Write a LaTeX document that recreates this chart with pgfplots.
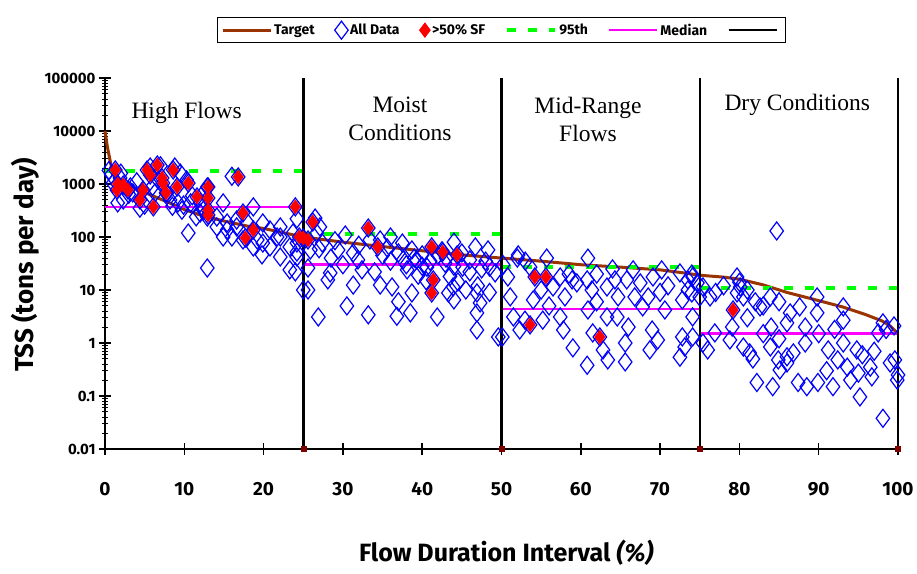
\documentclass[border=0pt]{standalone}
\usepackage{fontspec}
\setmainfont{Fira Sans}
\newfontfamily\regionfont{Liberation Serif}
\usepackage{pgfplots}
\pgfplotsset{compat=1.18}
\definecolor{tgtbrown}{RGB}{153,51,0}
\definecolor{dblue}{RGB}{0,0,255}
\definecolor{dred}{RGB}{255,0,0}
\definecolor{dgreen}{RGB}{0,255,0}
\definecolor{dmag}{RGB}{255,0,255}
\definecolor{mkred}{RGB}{128,0,0}
\pgfplotsset{markleg/.style={legend image code/.code={\draw[##1, only marks] plot coordinates {(24pt,0pt)};}}}
\begin{document}
\begin{tikzpicture}
\begin{axis}[
  at={(0pt,0pt)}, anchor=south west,
  scale only axis, width=793pt, height=371pt,
  ymode=log, xmin=0, xmax=100, ymin=0.01, ymax=100000,
  axis x line*=bottom, axis y line*=left,
  axis line style={black, line width=2pt},
  xtick={0,10,...,100},
  xticklabels={0,10,20,30,40,50,60,70,80,90,100},
  ytick={0.01,0.1,1,10,100,1000,10000,100000},
  yticklabels={0.01,0.1,1,10,100,1000,10000,100000},
  yminorticks=true,
  tick align=center,
  major tick length=12pt, minor tick length=6pt,
  tick style={black, line width=1.5pt},
  minor tick style={black, line width=1pt},
  xticklabel style={font=\bfseries\fontsize{19}{19}\selectfont, yshift=-24pt},
  yticklabel style={font=\bfseries\fontsize{15}{15}\selectfont},
  xlabel={Flow Duration Interval \textit{(\%)}},
  xlabel style={font=\bfseries\fontsize{25}{25}\selectfont, at={(axis description cs:0.506,-0.28)}, anchor=center},
  ylabel={TSS (tons per day)},
  ylabel style={font=\bfseries\fontsize{26}{26}\selectfont, at={(axis description cs:-0.1,0.496)}, anchor=center, rotate=0},
  clip=false,
  legend columns=6,
  legend style={at={(axis description cs:0.5,1.164)}, anchor=north, draw=black, line width=1pt,
    font=\bfseries\fontsize{14}{14}\selectfont, inner sep=3.5pt,
    /tikz/every even column/.append style={column sep=18pt}},
  legend image code/.code={\draw[mark repeat=2,mark phase=2,#1] (0pt,0pt) -- (24pt,0pt) -- (48pt,0pt);},
]
% Target
\addplot[tgtbrown, line width=3pt, no marks] coordinates {
(0,10000) (0.3,5000) (0.7,2500) (1,1600) (2,1150) (4,800) (6,600) (8,450) (10,330) (12,260) (15,200) (18,160) (20,145) (22,125) (25,100) (30,80) (35,66) (40,55) (45,46) (50,40) (55,35) (60,30) (65,27) (70,24) (73,21) (75,19) (78,17.5) (80,16) (83,12.5) (86,9) (90,6.3) (93,4.8) (96,3.4) (98,2.6) (99,2.1) (100,1.5)};
\addlegendentry{Target}
% All data
\addplot[only marks, mark=diamond, mark size=9pt, dblue, mark options={line width=1.2pt}, markleg] coordinates {
(1.3,1840) (1.5,770) (1.6,1000) (2.3,960) (2.9,770) (4.4,500) (4.8,770) (5.3,1840) (5.7,1480) (6.1,370) (6.6,2280) (7.2,1300) (7.3,1040) (7.7,680) (8.6,1840) (9.1,880) (10.5,1040) (11.6,570) (13.0,880) (13.0,545) (13.0,320) (13.0,260) (16.8,1360) (17.4,284) (17.7,96) (18.7,136) (24.0,370) (24.5,100) (25.0,96) (25.6,88) (26.2,192) (33.2,148) (34.4,65) (41.2,65) (41.4,15.5) (41.2,8.8) (42.6,52) (44.4,46) (53.6,2.2) (54.2,17.6) (55.6,17.6) (62.4,1.3) (79.2,4.2)
(0.5,1800) (0.8,1500) (1.0,1040) (1.6,440) (1.9,1300) (2.0,1600) (2.3,500) (3.0,640) (3.2,880) (3.5,680) (4.0,1100) (4.4,350) (5.0,400) (5.7,2090) (6.0,900) (6.3,680) (6.7,1190) (7.0,2200) (7.8,680) (8.2,500) (8.5,380) (8.8,2090) (9.2,440) (9.5,1600) (9.7,320) (9.9,400) (10.3,1190) (10.5,119) (10.8,440) (11.0,600) (11.5,240) (12.0,440) (12.0,284) (12.4,320) (12.5,700) (12.9,238) (12.9,880) (12.9,26) (14.1,238) (14.1,155) (14.9,440) (14.9,100) (15.4,184) (15.4,136) (16.0,100) (16.0,1400) (16.6,209) (16.6,155) (17.4,88) (17.9,192) (18.7,370) (18.7,65) (19.2,88) (19.8,46) (19.9,184) (19.9,77) (20.8,136) (20.8,65) (21.7,100) (22.1,155) (22.1,100) (22.1,42) (23.3,65) (23.3,24) (23.7,119) (24.2,77) (24.2,52) (25.0,10)
(24.2,220) (26.5,228) (27.1,155) (26.7,119) (27.4,77) (25.9,57) (24.2,42) (25.6,26) (24.0,22) (25.6,10) (26.9,3.1) (27,60) (28.4,21) (28.1,15.5) (28.5,40) (29,85) (29.4,57) (30,30) (30.3,109) (30.5,5) (31.3,50) (31.3,12.4) (31.9,37) (32,70) (32.4,24) (33.2,3.4) (33.4,88) (34.0,22) (34.7,88) (34.7,12.4) (35.0,45) (35.6,62) (36,100) (36.0,35) (36.2,11.4) (36.8,3.2) (37,6) (37.0,50) (37.5,77) (37.6,37) (38.0,30) (38.1,24) (38.5,3.7) (38.7,57) (38.7,8.8) (39.0,40) (39.3,37) (39.5,19) (40.0,46) (40.0,28) (40.5,15) (40.6,27) (41.0,35) (41.9,3.1) (42.0,45) (42.5,55) (42.9,32) (43.0,40) (43.3,8.8) (43.5,18) (43.9,11.4) (44,80) (44.0,28) (44.0,6.5) (44.5,14.2) (45.0,50) (45.1,27) (45.5,10) (46.0,37) (46.0,22) (46.7,65) (46.9,8.8) (46.9,3.7) (46.9,1.76) (47.0,12) (47.3,5.7) (47.5,25) (48.0,35) (48.3,57) (48.5,27) (48.5,9) (49.2,21) (49.6,1.3) (50.2,30)
(50.1,1.3) (50.8,17.6) (51.1,7.4) (51.5,3.1) (52.0,40) (52.1,46) (52.3,1.76) (52.96,2.7) (53.0,35) (53.6,27) (54.0,6.5) (55,10) (55.2,2.7) (55.7,40) (56,5) (56.5,11.4) (57.4,17.6) (57.4,3.1) (57.8,1.76) (58.0,7.4) (58.5,20) (58.9,15.5) (59.0,0.81) (59.5,13.6) (60.8,0.38) (60.8,15.5) (60.9,40) (60.9,4.2) (61.4,10) (61.5,1.55) (62,20) (62,6) (62.8,0.74) (63.3,11.4) (63.3,3.1) (63.4,0.48) (64,25) (64.3,15.5) (64.6,3.1) (64.7,7.4) (65.6,1.0) (65.6,0.44) (65.8,15.5) (66,2) (66.6,24) (66.8,7.4) (67.5,13.6) (67.8,4.8) (68.5,7.4) (68.7,0.74) (69.0,1.76) (69.1,17.6) (69.7,1.14) (70,9) (70.2,24) (70.6,4.2) (71,12) (72.5,21) (72.5,0.54) (72.8,6.5) (72.8,1.3) (73.1,0.84) (73.5,15.5) (73.5,10) (74,20) (74.0,8.8) (74.1,3.1) (74.1,1.3) (74.7,13.6)
(74.1,17.6) (75.0,7.4) (75.4,11.4) (75.4,1.0) (76.0,0.74) (76.3,7.4) (76.9,1.55) (77,9) (78,12) (78.8,1.14) (79.1,2.0) (79.7,17.6) (79.7,8.8) (80,14) (80.1,11.4) (80.5,7.4) (80.5,0.84) (81,10) (81,3) (81.3,0.65) (81.7,0.5) (82,6) (82.2,0.18) (82.6,4.8) (83,5) (83,1.5) (83.9,7.4) (83.9,0.84) (84,2) (84.2,0.15) (84.7,130) (84.9,0.48) (85,6) (85,1.2) (85.1,0.31) (86,0.55) (86.0,0.42) (86.0,2.4) (86.4,3.7) (86.8,0.65) (87.4,0.18) (87.6,4.8) (88.3,2.0) (88.3,1.0) (88.5,0.15) (89.8,7.4) (89.8,3.7) (89.9,0.18) (90,1.5) (91,0.3) (91.2,0.74) (91.8,0.15) (92,1.8) (92.4,0.48) (93.1,4.8) (93.1,2.7) (93.1,1.0) (93.6,0.35) (94,0.2) (94.8,0.74) (95.0,0.27) (95.2,0.096) (95.5,0.6) (96.5,0.35) (96.7,0.23) (97,0.7) (97.5,1.55) (98.1,2.4) (98.1,0.038) (98.5,1.8) (99.0,0.42) (99.5,2.1) (99.6,0.48) (99.9,0.2) (100,0.25)};
\addlegendentry{All Data}
% >50% SF
\addplot[only marks, mark=diamond*, mark size=7pt, dred, mark options={fill=dred, draw=dred}, markleg] coordinates {
(1.3,1840) (1.5,770) (1.6,1000) (2.3,960) (2.9,770) (4.4,500) (4.8,770) (5.3,1840) (5.7,1480) (6.1,370) (6.6,2280) (7.2,1300) (7.3,1040) (7.7,680) (8.6,1840) (9.1,880) (10.5,1040) (11.6,570) (13.0,880) (13.0,545) (13.0,320) (13.0,260) (16.8,1360) (17.4,284) (17.7,96) (18.7,136) (24.0,370) (24.5,100) (25.0,96) (25.6,88) (26.2,192) (33.2,148) (34.4,65) (41.2,65) (41.4,15.5) (41.2,8.8) (42.6,52) (44.4,46) (53.6,2.2) (54.2,17.6) (55.6,17.6) (62.4,1.3) (79.2,4.2)};
\addlegendentry{>50\% SF}
% 95th
\addplot[dgreen, line width=4pt, dash pattern=on 9pt off 12pt, no marks] coordinates {(0,1780) (25,1780)};
\addlegendentry{95th}
\addplot[dgreen, line width=4pt, dash pattern=on 9pt off 12pt, no marks, forget plot] coordinates {(25,113) (50,113)};
\addplot[dgreen, line width=4pt, dash pattern=on 9pt off 12pt, no marks, forget plot] coordinates {(50,27) (75,27)};
\addplot[dgreen, line width=4pt, dash pattern=on 9pt off 12pt, no marks, forget plot] coordinates {(75,11) (100,11)};
% Median
\addplot[dmag, line width=2.5pt, no marks] coordinates {(0,370) (25,370)};
\addlegendentry{Median}
\addplot[dmag, line width=2.5pt, no marks, forget plot] coordinates {(25,30) (50,30)};
\addplot[dmag, line width=2.5pt, no marks, forget plot] coordinates {(50,4.4) (75,4.4)};
\addplot[dmag, line width=2.5pt, no marks, forget plot] coordinates {(75,1.5) (100,1.5)};
% dividers
\addplot[black, line width=2.5pt, mark=square*, mark size=2.5pt, mark indices={1}, mark options={mkred, line width=0.5pt}] coordinates {(25,0.01) (25,100000)};
\addlegendentry{}
\addplot[black, line width=2.5pt, mark=square*, mark size=2.5pt, mark indices={1}, mark options={mkred, line width=0.5pt}, forget plot] coordinates {(50,0.01) (50,100000)};
\addplot[black, line width=2.5pt, mark=square*, mark size=2.5pt, mark indices={1}, mark options={mkred, line width=0.5pt}, forget plot] coordinates {(75,0.01) (75,100000)};
\addplot[black, line width=2.5pt, mark=square*, mark size=2.5pt, mark indices={1}, mark options={mkred, line width=0.5pt}, forget plot] coordinates {(100,0.01) (100,100000)};
% region labels
\node[font=\regionfont\fontsize{23.5}{28}\selectfont, align=center] at (axis cs:10.3,21900) {High Flows};
\node[font=\regionfont\fontsize{23.5}{28}\selectfont, align=center] at (axis cs:37.2,16800) {Moist\\Conditions};
\node[font=\regionfont\fontsize{23.5}{28}\selectfont, align=center] at (axis cs:60.9,16800) {Mid-Range\\Flows};
\node[font=\regionfont\fontsize{23.5}{28}\selectfont, align=center] at (axis cs:87.3,31000) {Dry Conditions};
\end{axis}
\pgfresetboundingbox
\path (-105pt,-124pt) rectangle (812pt,449pt);
\end{tikzpicture}
\end{document}
